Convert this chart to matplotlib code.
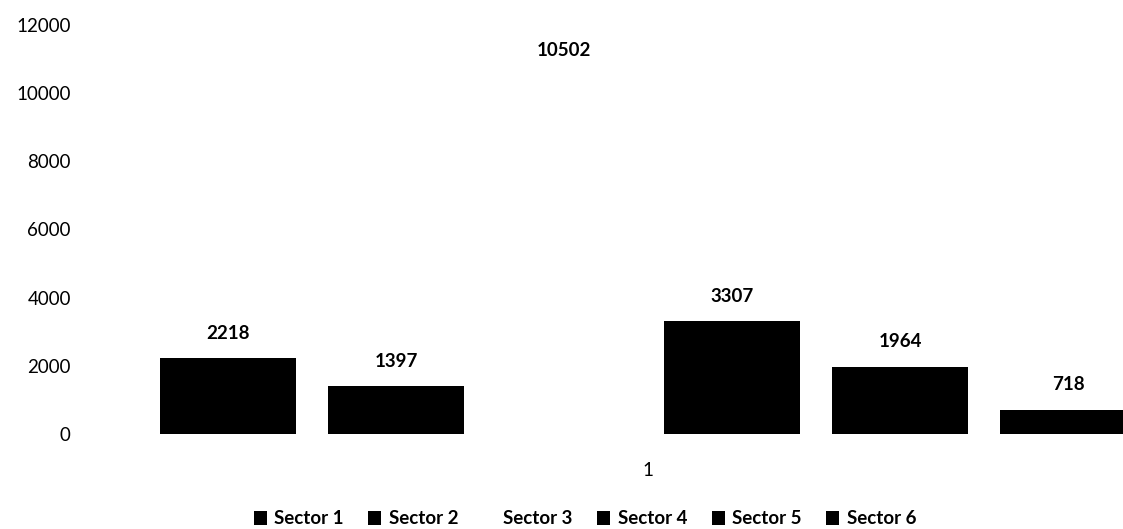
import matplotlib.pyplot as plt
import numpy as np

# values
sectors = ['Sector 1', 'Sector 2', 'Sector 3', 'Sector 4', 'Sector 5', 'Sector 6']
counts = [2218, 1397, 10502, 3307, 1964, 718]
bar_colors = ['#000000', '#000000', '#ffffff', '#000000', '#000000', '#000000']
category = '1'
y_ticks = [0, 2000, 4000, 6000, 8000, 10000, 12000]

plt.rcParams['font.family'] = ['Lato', 'DejaVu Sans']

fig = plt.figure(figsize=(11.23, 5.29), dpi=100)
W, H = 1123.0, 529.0
ax = fig.add_axes([100 / W, 95 / H, 1 - 100 / W, (434 - 25) / H])

pos = np.arange(len(sectors))
for i in range(len(sectors)):
    ax.bar(pos[i], counts[i], width=136 / 168.0, color=bar_colors[i],
           label=sectors[i], edgecolor='none')
    ax.annotate(str(counts[i]), (pos[i], counts[i]), xytext=(0, 12),
                textcoords='offset points', ha='center', va='bottom',
                fontsize=13.5, fontweight='bold')

ax.set_xlim((100 - 228) / 168.0, (1123 - 228) / 168.0)
ax.set_ylim(0, 12000)
ax.set_yticks(y_ticks)
ax.set_yticklabels([str(v) for v in y_ticks], fontsize=13.5)
ax.set_xticks([pos.mean()])
ax.set_xticklabels([category], fontsize=13.5)
ax.tick_params(axis='y', length=0, pad=21)
ax.tick_params(axis='x', length=0, pad=20)
for s in ax.spines.values():
    s.set_visible(False)

fig.legend(loc='center', bbox_to_anchor=(585 / W, 1 - 519 / H), ncol=6,
           frameon=False, handlelength=0.7, handleheight=0.7,
           handletextpad=0.4, columnspacing=1.3,
           prop={'size': 13.5, 'weight': 'bold'})

fig.savefig('out.png', dpi=100)
